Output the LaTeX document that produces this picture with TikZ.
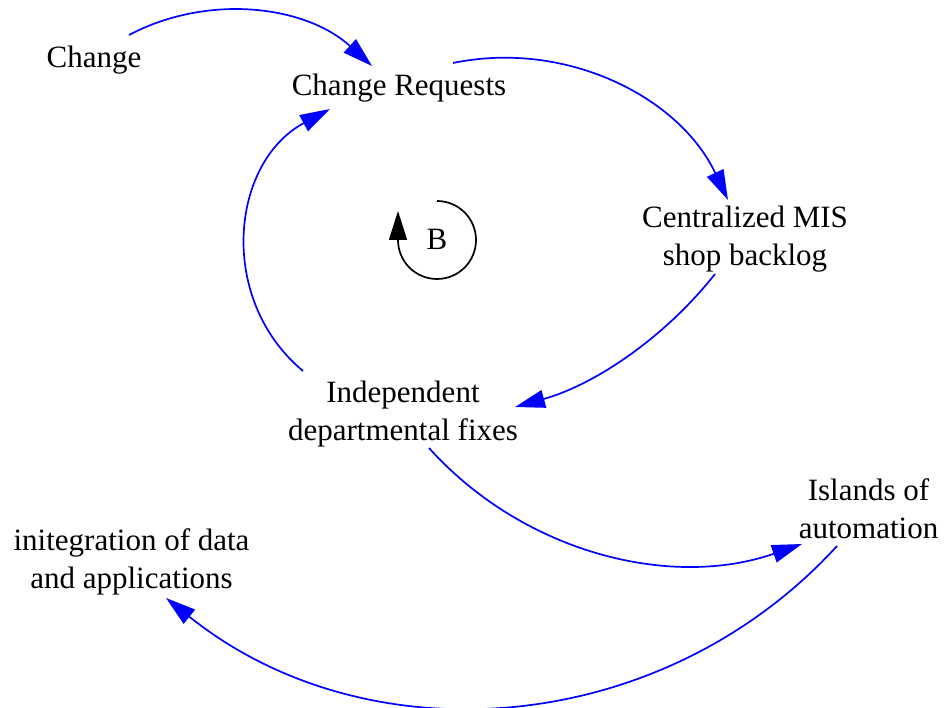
\documentclass[tikz,border=0pt]{standalone}
\usepackage{fontspec}
\setmainfont{Liberation Serif}
\usetikzlibrary{arrows.meta}
\definecolor{linkblue}{RGB}{0,0,255}
\tikzset{
  var/.style={font=\fontsize{31}{38}\selectfont, inner sep=0pt, align=center, anchor=base},
  link/.style={draw=linkblue, line width=1.7pt,
    -{Triangle[length=30pt,width=18pt]}, linkblue},
  loopmark/.style={draw=black, line width=1.7pt,
    -{Triangle[length=29pt,width=18pt]}},
}
\begin{document}
\begin{tikzpicture}[x=1pt,y=-1pt]
\useasboundingbox (0,0) rectangle (950,708);

% variables (base = baseline of the last line)
\node[var] (chg)   at (94,68)     {Change};
\node[var] (cr)    at (399,96)    {Change Requests};
\node[var] (mis)   at (745,266)   {Centralized MIS\\shop backlog};
\node[var] (ind)   at (403,440)   {Independent\\departmental fixes};
\node[var] (isl)   at (868.5,538) {Islands of\\automation};
\node[var] (integ) at (131.5,588) {initegration of data\\and applications};
\node[var] (b)     at (437,250)   {B};

% causal links
\draw[link] ([shift={(35,-33)}]chg.base)
  .. controls +(79.5,-41.9) and +(-66.5,-60.4) .. ([shift={(-27,-30)}]cr.base);
\draw[link] ([shift={(54,-33)}]cr.base)
  .. controls +(112.2,-23.3) and +(-48.9,-103.6) .. ([shift={(-17,-66)}]mis.base);
\draw[link] ([shift={(-30,8)}]mis.base)
  .. controls +(-50.9,64.4) and +(79.1,-22.1) .. ([shift={(112,-33)}]ind.base);
\draw[link] ([shift={(-100,-69)}]ind.base)
  .. controls +(-86.4,-72.2) and +(-99.2,53.3) .. ([shift={(-69,13)}]cr.base);
\draw[link] ([shift={(26,8)}]ind.base)
  .. controls +(93.7,104.1) and +(-132.4,45.8) .. ([shift={(-66.5,6)}]isl.base);
\draw[link] ([shift={(-31.5,8)}]isl.base)
  .. controls +(-175.1,191.4) and +(202.3,162.1) .. ([shift={(34.5,10)}]integ.base);

% balancing loop marker
\draw[loopmark] ([shift={(0,-49)}]b.base)
  arc[start angle=90, end angle=-180, radius=39pt] -- ++(0,-29);
\end{tikzpicture}
\end{document}
